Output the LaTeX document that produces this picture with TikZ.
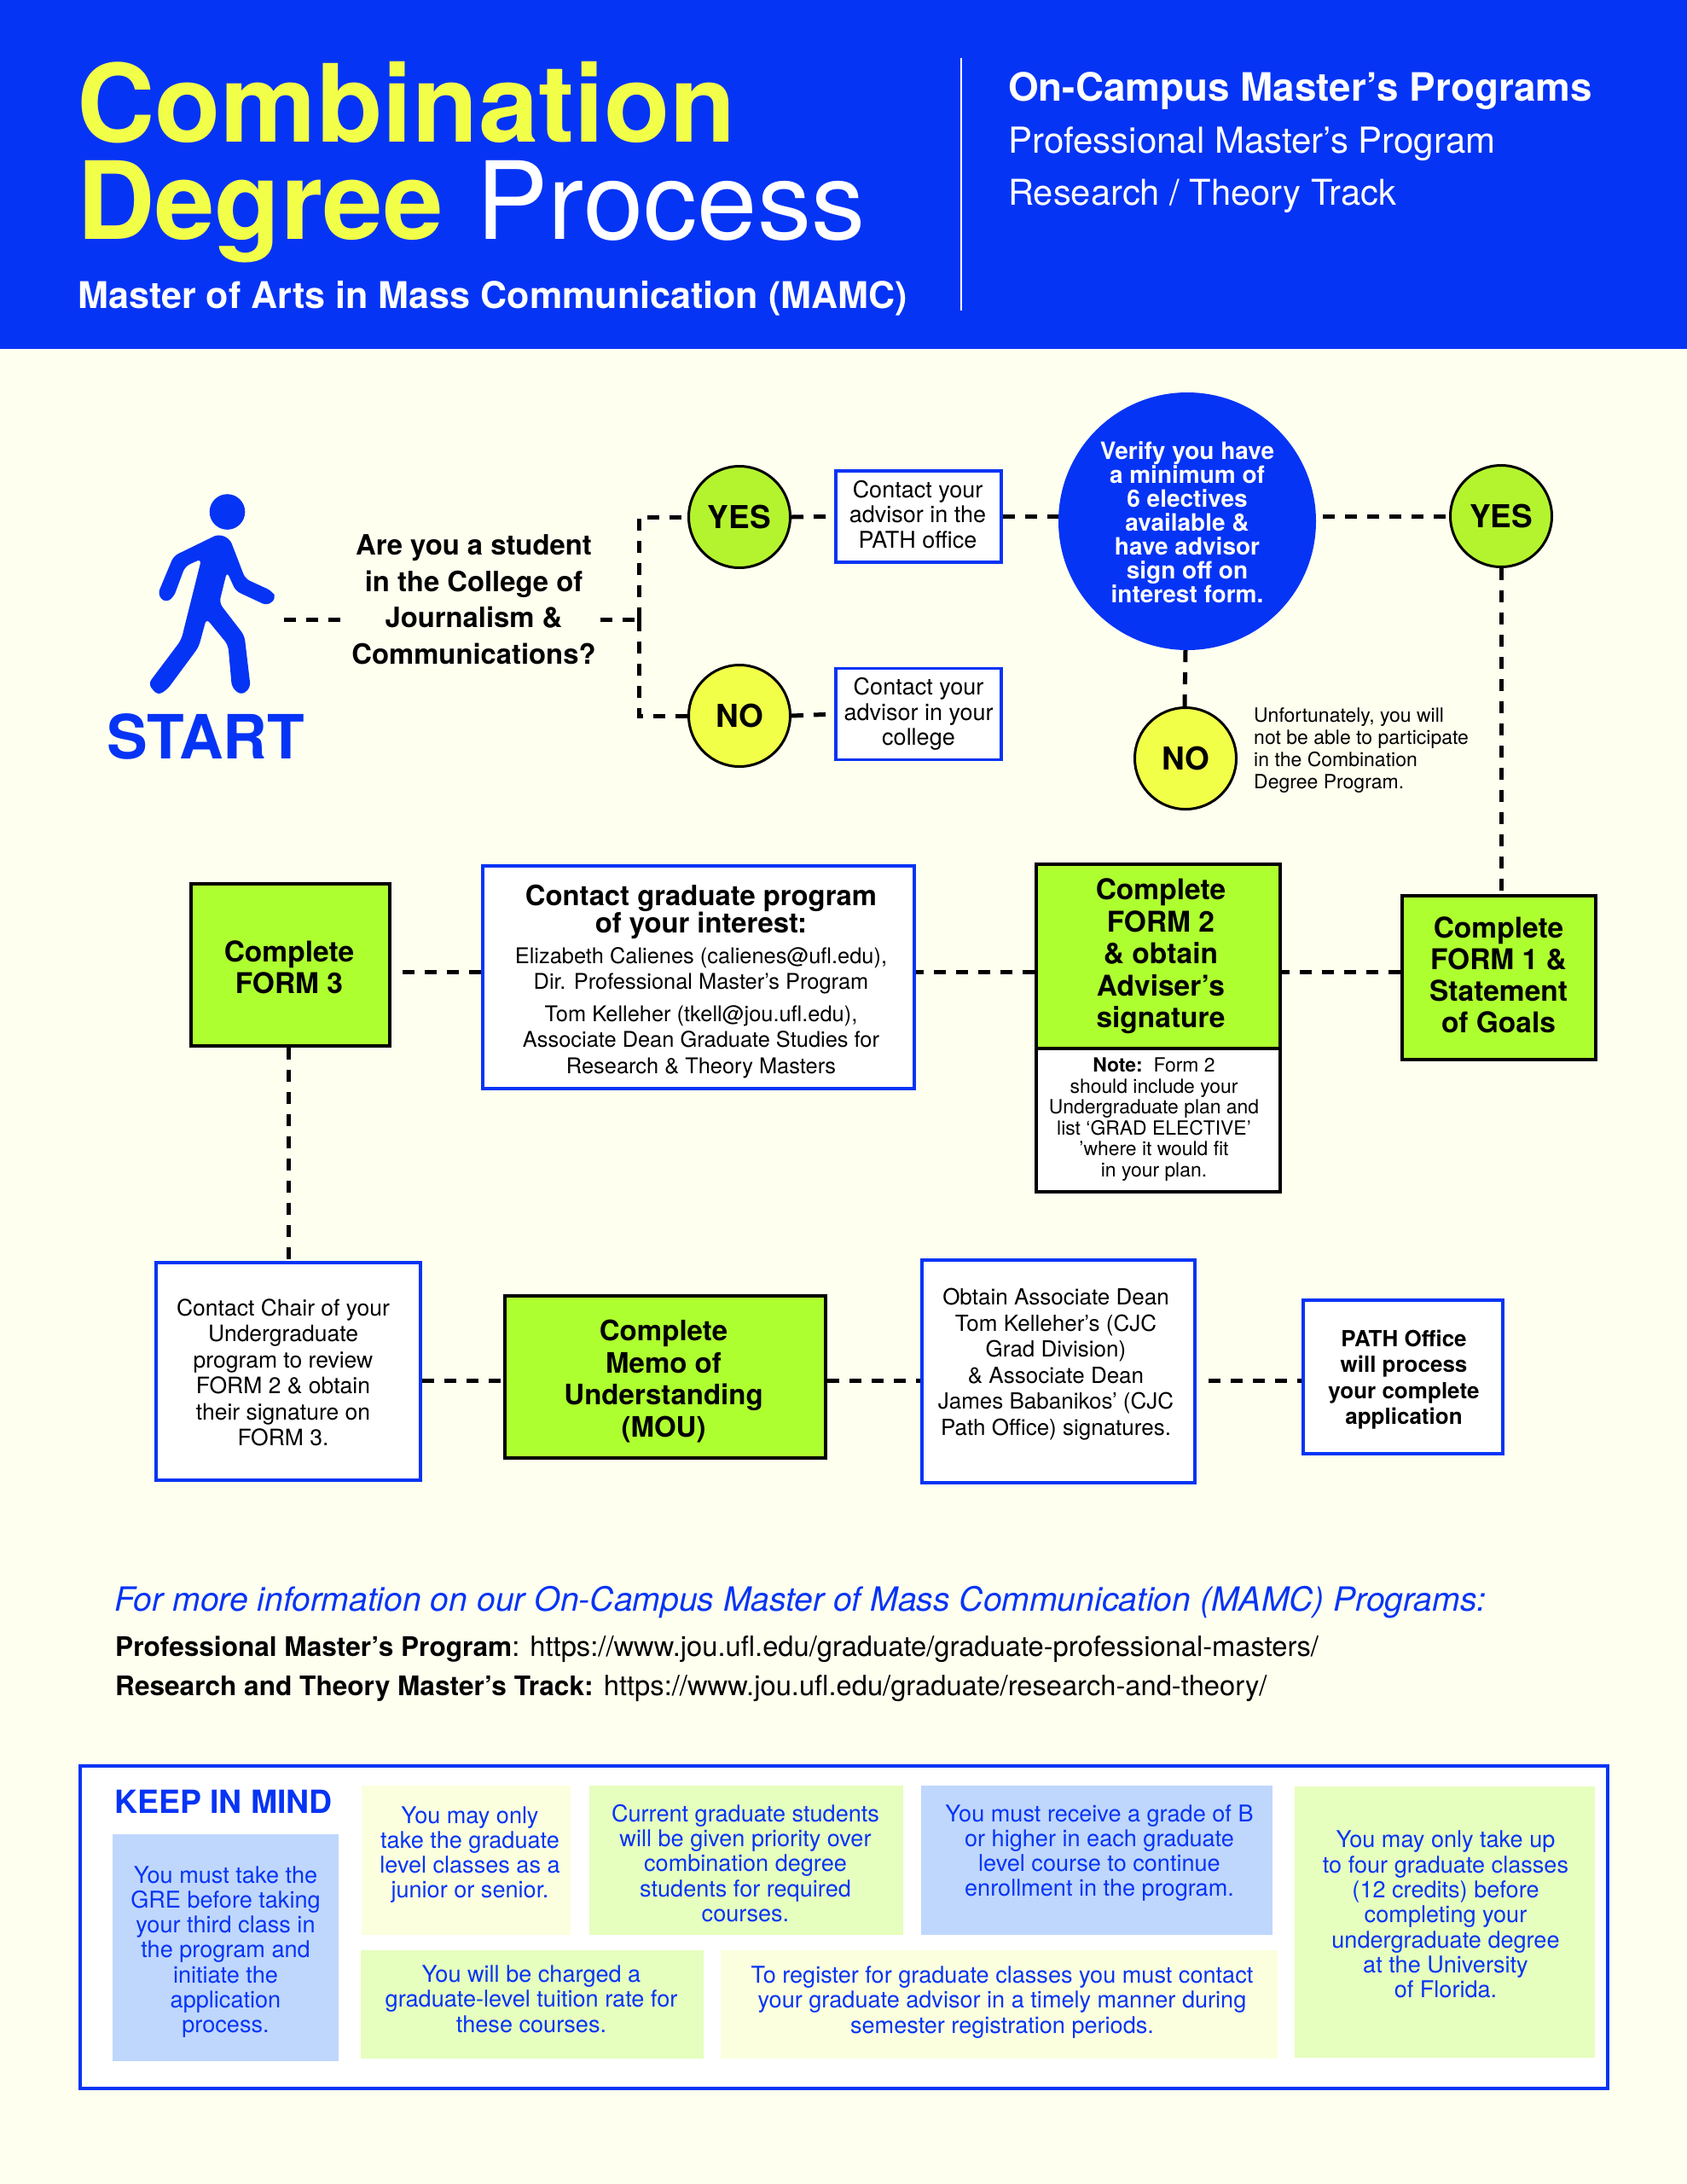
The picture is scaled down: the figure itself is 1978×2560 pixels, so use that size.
\documentclass[tikz,border=0pt]{standalone}
\usepackage{fontspec}
\setmainfont{TeX Gyre Heros}
\definecolor{royal}{HTML}{0634F5}
\definecolor{paper}{HTML}{FFFFF0}
\definecolor{lemon}{HTML}{F2FF48}
\definecolor{lime}{HTML}{AEFF30}
\definecolor{yesgreen}{HTML}{B4F42E}
\definecolor{softblue}{HTML}{BFD7FC}
\definecolor{softgreen}{HTML}{E6FEBE}
\definecolor{softyellow}{HTML}{FBFFDE}
\newcommand{\fs}[2]{\fontsize{#1pt}{#2pt}\selectfont}
\tikzset{
  box/.style={rectangle,inner sep=0pt,align=center,anchor=center},
  bluebox/.style={box,draw=royal,line width=3.5pt,fill=white},
  limebox/.style={box,draw=black,line width=3.5pt,fill=lime},
  notebox/.style={box,draw=black,line width=3.5pt,fill=white},
  bodytxt/.style={box,font=\fs{26.5}{30.5}},
  limetxt/.style={box,font=\fs{33.5}{37.5}\bfseries},
  yesno/.style={circle,draw=black,line width=3pt,minimum size=119pt,inner sep=0pt,font=\fs{37}{40}\bfseries},
  tint/.style={box,text=royal,font=\fs{27.1}{29.3}},
  dashline/.style={draw=black,line width=5pt,dash pattern=on 14pt off 12pt},
  hdr/.style={inner sep=0pt,anchor=base west,text=white}
}
\begin{document}
\begin{tikzpicture}[x=1pt,y=-1pt]
\useasboundingbox (0,0) rectangle (1978,2560);
\fill[paper] (0,0) rectangle (1978,2560);
\fill[royal] (0,0) rectangle (1978,409);
% header
\node[hdr,text=lemon,font=\fs{126.5}{125}\bfseries] (t1) at (90,166) {Combination};
\node[hdr,text=lemon,font=\fs{126.5}{125}\bfseries] (t2) at (90,280) {Degree};
\node[hdr,font=\fs{126.5}{125}] (t3) at (558,280) {Process};
\node[hdr,font=\fs{43.1}{43}\bfseries] (t4) at (91,361) {Master of Arts in Mass Communication (MAMC)};
\draw[white,line width=2pt] (1127,68) -- (1127,364);
\node[hdr,font=\fs{45.8}{46.8}\bfseries] (h1) at (1182,118) {On-Campus Master’s Programs};
\node[hdr,font=\fs{42}{41.6}] (h2) at (1182,179) {Professional Master’s Program};
\node[hdr,font=\fs{41.7}{41.6}] (h3) at (1182,240) {Research / Theory Track};
% walker
\fill[royal] (266.5,600) circle (20.8pt);
\fill[royal,rounded corners=6pt] (256.3,626) -- (269.6,631.7) -- (287.5,678.3) -- (318.8,692.7) -- (324,701) -- (313.4,710) -- (276.3,692.7) -- (266.1,670) -- (257.1,706.7) -- (286.6,745) -- (293.8,806) -- (283,815) -- (271.9,806) -- (267.4,756) -- (242,725) -- (233,758.3) -- (196,808.3) -- (184.8,815) -- (173.7,801.7) -- (212.5,750) -- (236.2,655) -- (217,664) -- (203.6,700) -- (193.8,706.5) -- (184.8,696.7) -- (203.6,651.7) -- cycle;
\node[inner sep=0pt,anchor=base,text=royal,font=\fs{71.5}{69}\bfseries] (start) at (241,889) {START};
\coordinate (walker) at (333,726);
% first row
\node[inner sep=0pt,align=center,font=\fs{32.8}{42.5}\bfseries] (q) at (555.5,702.5) {Are you a student\\in the College of\\Journalism \&\\Communications?};
\coordinate (j) at (749,726);
\node[yesno,fill=yesgreen] (yes1) at (867,606) {YES};
\node[yesno,fill=lemon] (no1) at (867,839) {NO};
\node[bluebox,minimum width=194pt,minimum height=107pt] (c1) at (1077,605.5) {};
\node[box,font=\fs{27}{29.5}] (c1t) at (1076,603) {Contact your\\advisor in the\\PATH office};
\node[bluebox,minimum width=194pt,minimum height=107pt,font=\fs{27}{29.5}] (c2) at (1077,837) {Contact your\\advisor in your\\college};
\node[circle,fill=royal,minimum size=302pt,inner sep=0pt] (v) at (1392,611) {};
\node[box,text=white,font=\fs{28}{28}\bfseries] (vt) at (1392,612) {Verify you have\\a minimum of\\6 electives\\available \&\\have advisor\\sign off on\\interest form.};
\node[yesno,fill=yesgreen] (yes2) at (1760,605) {YES};
\node[yesno,fill=lemon] (no2) at (1390,889) {NO};
\node[inner sep=0pt,align=left,font=\fs{23}{26},anchor=west] (un) at (1470,880) {Unfortunately, you will\\not be able to participate\\in the Combination\\Degree Program.};
% second row
\coordinate (rowb) at (0,1139);
\node[limebox,minimum width=233pt,minimum height=190pt] (f3) at (340.5,1131) {};
\node[limetxt] (f3t) at (339,1134) {Complete\\FORM 3};
\node[bluebox,minimum width=506pt,minimum height=261pt] (g) at (819,1145.5) {};
\node[box,font=\fs{32.8}{31}\bfseries] (gt1) at (822,1069) {Contact graduate program\\of your interest:};
\node[box,font=\fs{25.4}{30.5}] (gt2) at (822,1138) {Elizabeth Calienes (calienes@ufl.edu),\\Dir. Professional Master’s Program};
\node[box,font=\fs{25.4}{30.5}] (gt3) at (822,1221) {Tom Kelleher (tkell@jou.ufl.edu),\\Associate Dean Graduate Studies for\\Research \& Theory Masters};
\node[limebox,minimum width=286pt,minimum height=216pt] (f2) at (1358,1121) {};
\node[limetxt] (f2t) at (1361,1121) {Complete\\FORM 2\\\& obtain\\Adviser’s\\signature};
\node[notebox,minimum width=286pt,minimum height=168pt] (n2) at (1358,1313) {};
\node[box,font=\fs{22.9}{24.5}] (n2t) at (1353,1312) {\textbf{Note:}\ \ Form 2\\should include your\\Undergraduate plan and\\list ‘GRAD ELECTIVE’\\ ’where it would fit\\in your plan.};
\node[limebox,minimum width=227pt,minimum height=192pt] (f1) at (1757.5,1146) {};
\node[box,font=\fs{33.5}{37}\bfseries] (f1t) at (1757,1143) {Complete\\FORM 1 \&\\Statement\\of Goals};
% third row
\coordinate (rowc) at (0,1618);
\node[bluebox,minimum width=310pt,minimum height=255pt] (ch) at (338,1607.5) {};
\node[bodytxt] (cht) at (332,1609) {Contact Chair of your\\Undergraduate\\program to review\\FORM 2 \& obtain\\their signature on\\FORM 3.};
\node[limebox,minimum width=376pt,minimum height=190pt] (mou) at (780,1614) {};
\node[box,font=\fs{33}{37.5}\bfseries] (mout) at (778,1619) {Complete\\Memo of\\Understanding\\(MOU)};
\node[bluebox,minimum width=320pt,minimum height=261pt] (ob) at (1241,1607.5) {};
\node[box,font=\fs{26}{30.5}] (obt) at (1238,1599) {Obtain Associate Dean\\Tom Kelleher’s (CJC\\Grad Division)\\\& Associate Dean\\James Babanikos’ (CJC\\Path Office) signatures.};
\node[bluebox,minimum width=234pt,minimum height=180pt] (pa) at (1645,1614) {};
\node[box,font=\fs{26}{30.5}\bfseries] (pat) at (1646,1617) {PATH Office\\will process\\your complete\\application};
% connectors
\draw[dashline] (walker) -- ([xshift=-13pt]q.west |- j);
\draw[dashline] ([xshift=5pt]q.east |- j) -- (j);
\draw[dashline] (j) |- (yes1.west);
\draw[dashline] (j) |- (no1.west);
\draw[dashline] (yes1.east) -- (c1.west);
\draw[dashline] (no1.east) -- (c2.west);
\draw[dashline] (c1.east) -- (v.west |- c1.east);
\draw[dashline] ([xshift=8pt]v.east |- yes2.west) -- (yes2.west);
\draw[dashline] ([xshift=-2pt]v.south) -- ([xshift=-1pt]no2.north);
\draw[dashline] (yes2.south) -- (yes2.south |- f1.north);
\draw[dashline] (f1.west |- rowb) -- (f2.east |- rowb);
\draw[dashline] (f2.west |- rowb) -- (g.east |- rowb);
\draw[dashline] (g.west |- rowb) -- ([xshift=5pt]f3.east |- rowb);
\draw[dashline] ([xshift=-2pt]f3.south) -- ([xshift=-2pt]f3.south |- ch.north);
\draw[dashline] (ch.east |- rowc) -- (mou.west |- rowc);
\draw[dashline] (mou.east |- rowc) -- (ob.west |- rowc);
\draw[dashline] ([xshift=14pt]ob.east |- rowc) -- (pa.west |- rowc);
% info
\node[inner sep=0pt,anchor=base west,text=royal,font=\fs{39.1}{39}\itshape] (i1) at (134,1888) {For more information on our On-Campus Master of Mass Communication (MAMC) Programs:};
\node[inner sep=0pt,anchor=base west,font=\fs{32.7}{32}] (i2) at (135,1941) {{\fs{31.6}{32}\bfseries Professional Master’s Program}: https://www.jou.ufl.edu/graduate/graduate-professional-masters/};
\node[inner sep=0pt,anchor=base west,font=\fs{32.7}{32}] (i3) at (135,1987) {{\fs{31.6}{32}\bfseries Research and Theory Master’s Track:} https://www.jou.ufl.edu/graduate/research-and-theory/};
% keep in mind
\node[box,draw=royal,line width=4pt,fill=white,minimum width=1791pt,minimum height=378pt] (km) at (989.5,2259) {};
\node[inner sep=0pt,anchor=base west,text=royal,font=\fs{37.4}{37}\bfseries] (kt) at (134,2125) {KEEP IN MIND};
\node[box,fill=softblue,minimum width=265pt,minimum height=266pt] (b1) at (264.5,2283) {};
\node[tint] (b1t) at (264.5,2288) {You must take the\\GRE before taking\\your third class in\\the program and\\initiate the\\application\\process.};
\node[box,fill=softyellow,minimum width=245pt,minimum height=175pt] (b2) at (546,2180.5) {};
\node[tint] (b2t) at (551,2174) {You may only\\take the graduate\\level classes as a\\junior or senior.};
\node[box,fill=softgreen,minimum width=368pt,minimum height=175pt] (b3) at (875,2180.5) {};
\node[tint] (b3t) at (874,2184) {Current graduate students\\will be given priority over\\combination degree\\students for required\\courses.};
\node[box,fill=softblue,minimum width=412pt,minimum height=175pt] (b4) at (1286,2180.5) {};
\node[tint] (b4t) at (1289,2172) {You must receive a grade of B\\or higher in each graduate\\level course to continue\\enrollment in the program.};
\node[box,fill=softgreen,minimum width=352pt,minimum height=318pt] (b5) at (1694,2253) {};
\node[tint] (b5t) at (1695,2244) {You may only take up\\to four graduate classes\\(12 credits) before\\completing your\\undergraduate degree\\at the University\\of Florida.};
\node[box,fill=softgreen,minimum width=402pt,minimum height=127pt] (b6) at (624,2349.5) {};
\node[tint] (b6t) at (623,2343) {You will be charged a\\graduate-level tuition rate for\\these courses.};
\node[box,fill=softyellow,minimum width=653pt,minimum height=127pt] (b7) at (1171.5,2349.5) {};
\node[tint] (b7t) at (1175,2347) {To register for graduate classes you must contact\\your graduate advisor in a timely manner during\\semester registration periods.};
\end{tikzpicture}
\end{document}
